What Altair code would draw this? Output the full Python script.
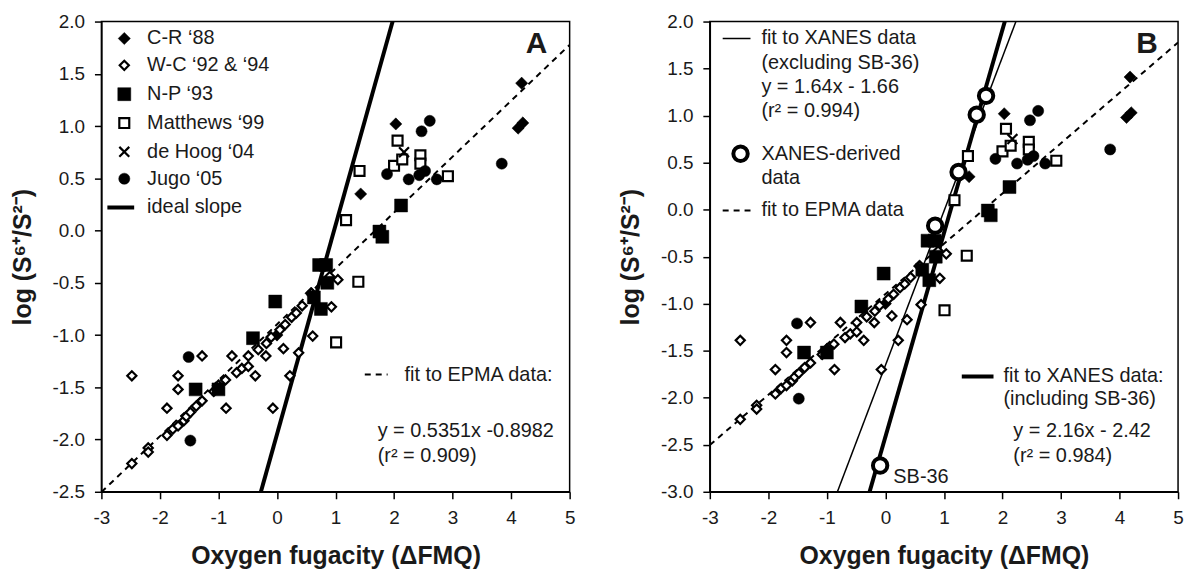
import altair as alt
import pandas as pd

FONT = "Liberation Sans"

# ---------------- data ----------------
cr_x = [4.18, 4.12, 4.20, 2.03, 1.43, 0.58, 0.00]
cr_y = [1.41, 0.98, 1.03, 1.02, 0.35, -0.60, -1.00]

wc_x = [-2.48, -2.48, -2.20, -2.20, -1.88, -1.88, -1.78, -1.69, -1.69, -1.69, -1.59, -1.55,
        -1.48, -1.38, -1.28, -1.28, -1.08, -1.00, -0.88, -0.87, -0.77, -0.69, -0.60, -0.49,
        -0.49, -0.37, -0.32, -0.19, -0.18, -0.10, -0.07, 0.05, 0.11, 0.14, 0.22, 0.25,
        0.33, 0.37, 0.43, 0.59, 0.61, 0.90, 0.93, 1.04]
wc_y = [-1.39, -2.23, -2.08, -2.12, -1.96, -1.70, -1.90, -1.39, -1.52, -1.87, -1.82, -1.78,
        -1.74, -1.68, -1.63, -1.20, -1.54, -1.48, -1.43, -1.70, -1.20, -1.36, -1.32, -1.30,
        -1.20, -1.39, -1.14, -1.20, -1.08, -1.02, -1.70, -0.95, -1.13, -0.90, -1.39, -0.83,
        -0.79, -1.17, -0.72, -0.60, -1.01, -0.44, -0.73, -0.47]

np_x = [-1.39, -1.00, -0.41, -0.03, 0.72, 0.84, 0.86, 0.63, 0.75, 1.75, 1.80, 2.12]
np_y = [-1.52, -1.52, -1.03, -0.68, -0.33, -0.33, -0.50, -0.64, -0.75, -0.01, -0.06, 0.24]

mt_x = [2.06, 2.00, 2.14, 2.45, 2.45, 2.92, 1.41, 1.18, 1.39, 1.01]
mt_y = [0.86, 0.62, 0.68, 0.72, 0.64, 0.52, 0.57, 0.10, -0.49, -1.07]

dh_x = [2.17]
dh_y = [0.75]

jg_x = [2.61, 2.47, 1.88, 2.25, 2.43, 2.53, 2.73, 3.84, -1.51, -1.48]
jg_y = [1.05, 0.95, 0.54, 0.49, 0.53, 0.57, 0.49, 0.64, -1.21, -2.01]

xanes_x = [1.72, 1.56, 1.25, 0.85, -0.09]
xanes_y = [1.21, 1.01, 0.40, -0.17, -2.72]

# fit / reference lines (end points)
epma_x = [-3.0, 5.0]
epma_y = [-2.503, 1.777]
ideal_x = [-0.275, 1.975]
ideal_y = [-2.5, 2.0]
xan_ex_x = [-0.82, 2.23]
xan_ex_y = [-3.0, 2.0]
xan_in_x = [-0.27, 2.04]
xan_in_y = [-3.0, 2.0]

series_names = ["C-R \u201888", "W-C \u201892 & \u201894", "N-P \u201893",
                "Matthews \u201899", "de Hoog \u201804", "Jugo \u201805"]
series_x = [cr_x, wc_x, np_x, mt_x, dh_x, jg_x]
series_y = [cr_y, wc_y, np_y, mt_y, dh_y, jg_y]

x_ticks = [-3, -2, -1, 0, 1, 2, 3, 4, 5]
yA_ticks = [-2.5, -2.0, -1.5, -1.0, -0.5, 0.0, 0.5, 1.0, 1.5, 2.0]
yB_ticks = [-3.0, -2.5, -2.0, -1.5, -1.0, -0.5, 0.0, 0.5, 1.0, 1.5, 2.0]

x_title = "Oxygen fugacity (\u0394FMQ)"
y_title = "log (S\u2076\u207A/S\u00B2\u207B)"

# ---------------- styles ----------------
XPATH = "M-1,-1L1,1M-1,1L1,-1"
STYLE = {
    series_names[0]: dict(shape="diamond", size=150, fill="black", sw=0.5),
    series_names[1]: dict(shape="diamond", size=85, fill="white", sw=2.2),
    series_names[2]: dict(shape="square", size=170, fill="black", sw=0.5),
    series_names[3]: dict(shape="square", size=100, fill="white", sw=2.2),
    series_names[4]: dict(shape=XPATH, size=100, fill=None, sw=2.2),
    series_names[5]: dict(shape="circle", size=125, fill="black", sw=0.5),
}
TXT = 20

W, H = 471, 473
XSCALE = alt.Scale(domain=[-3, 5], nice=False, zero=False)


def enc(df, yscale, yticks):
    return dict(
        x=alt.X("x:Q", scale=XSCALE,
                axis=alt.Axis(values=x_ticks, title=x_title, format="d",
                              labelExpr="replace(datum.label, '\u2212', '-')")),
        y=alt.Y("y:Q", scale=yscale,
                axis=alt.Axis(values=yticks, title=y_title, format=".1f",
                              labelExpr="replace(datum.label, '\u2212', '-')")),
    )


def point_layer(xs, ys, name, yscale, yticks):
    st = STYLE[name]
    kw = dict(shape=st["shape"], size=st["size"], filled=False, stroke="black",
              strokeWidth=st["sw"], opacity=1, clip=True)
    if st["fill"] is not None:
        kw["fill"] = st["fill"]
        kw["fillOpacity"] = 1
    df = pd.DataFrame({"x": xs, "y": ys})
    return alt.Chart(df).mark_point(**kw).encode(**enc(df, yscale, yticks))


def line_layer(xs, ys, yscale, yticks, width, dash=None):
    df = pd.DataFrame({"x": xs, "y": ys})
    kw = dict(color="black", strokeWidth=width, clip=True)
    if dash:
        kw["strokeDash"] = dash
    return alt.Chart(df).mark_line(**kw).encode(**enc(df, yscale, yticks))


def text_layer(xs, ys, texts, yscale, yticks, size=TXT, bold=False, align="left"):
    df = pd.DataFrame({"x": xs, "y": ys, "t": texts})
    return alt.Chart(df).mark_text(align=align, baseline="middle", font=FONT,
                                   fontSize=size, fontWeight="bold" if bold else "normal",
                                   color="#1a1a1a").encode(text="t:N", **enc(df, yscale, yticks))


def xanes_layer(xs, ys, yscale, yticks):
    df = pd.DataFrame({"x": xs, "y": ys})
    return alt.Chart(df).mark_point(shape="circle", size=210, filled=False, fill="white",
                                    fillOpacity=1, stroke="black", strokeWidth=4,
                                    opacity=1, clip=True).encode(**enc(df, yscale, yticks))


# ---------------- panel A ----------------
yA = alt.Scale(domain=[-2.5, 2.0], nice=False, zero=False)
layersA = [
    line_layer(epma_x, epma_y, yA, yA_ticks, 2, [6, 5]),
    line_layer(ideal_x, ideal_y, yA, yA_ticks, 4),
]
for name, xs, ys in zip(series_names, series_x, series_y):
    layersA.append(point_layer(xs, ys, name, yA, yA_ticks))

# legend A (data-coordinate placement)
legA_rows = [1.838, 1.581, 1.305, 1.029, 0.753, 0.496]
for name, ly in zip(series_names, legA_rows):
    layersA.append(point_layer([-2.609], [ly], name, yA, yA_ticks))
layersA.append(text_layer([-2.219] * 7, legA_rows + [0.221], series_names + ["ideal slope"], yA, yA_ticks))
layersA.append(line_layer([-2.898, -2.44], [0.221, 0.221], yA, yA_ticks, 4))
layersA.append(line_layer([1.50, 1.89], [-1.378, -1.378], yA, yA_ticks, 2, [6, 5]))
layersA.append(text_layer([2.178], [-1.378], ["fit to EPMA data:"], yA, yA_ticks))
layersA.append(text_layer([1.72, 1.72], [-1.92, -2.158],
                          ["y = 0.5351x -0.8982", "(r\u00B2 = 0.909)"], yA, yA_ticks))
layersA.append(text_layer([4.436], [1.781], ["A"], yA, yA_ticks, size=30, bold=True, align="center"))

panelA = alt.layer(*layersA).properties(width=W, height=H)

# ---------------- panel B ----------------
yB = alt.Scale(domain=[-3.0, 2.0], nice=False, zero=False)
layersB = [
    line_layer(epma_x, epma_y, yB, yB_ticks, 2, [6, 5]),
    line_layer(xan_ex_x, xan_ex_y, yB, yB_ticks, 1.5),
    line_layer(xan_in_x, xan_in_y, yB, yB_ticks, 4),
]
for name, xs, ys in zip(series_names, series_x, series_y):
    layersB.append(point_layer(xs, ys, name, yB, yB_ticks))
layersB.append(xanes_layer(xanes_x, xanes_y, yB, yB_ticks))

# legend / annotations B
layersB.append(line_layer([-2.78, -2.305], [1.82, 1.82], yB, yB_ticks, 1.5))
layersB.append(text_layer([-2.119] * 4, [1.820, 1.556, 1.302, 1.049],
                          ["fit to XANES data", "(excluding SB-36)", "y = 1.64x - 1.66",
                           "(r\u00B2 = 0.994)"], yB, yB_ticks))
layersB.append(xanes_layer([-2.475], [0.594], yB, yB_ticks))
layersB.append(text_layer([-2.119, -2.119], [0.594, 0.340], ["XANES-derived", "data"], yB, yB_ticks))
layersB.append(line_layer([-2.78, -2.305], [-0.008, -0.008], yB, yB_ticks, 2, [6, 5]))
layersB.append(text_layer([-2.119], [-0.008], ["fit to EPMA data"], yB, yB_ticks))
layersB.append(line_layer([1.305, 1.847], [-1.774, -1.774], yB, yB_ticks, 4))
layersB.append(text_layer([2.017, 2.017], [-1.774, -2.017],
                          ["fit to XANES data:", "(including SB-36)"], yB, yB_ticks))
layersB.append(text_layer([2.186, 2.186], [-2.355, -2.619],
                          ["y = 2.16x - 2.42", "(r\u00B2 = 0.984)"], yB, yB_ticks))
layersB.append(text_layer([0.136], [-2.841], ["SB-36"], yB, yB_ticks))
layersB.append(text_layer([4.47], [1.757], ["B"], yB, yB_ticks, size=30, bold=True, align="center"))

panelB = alt.layer(*layersB).properties(width=W, height=H)

chart = (
    alt.hconcat(panelA, panelB, spacing=41)
    .properties(padding={"left": 9, "top": 10, "right": 2, "bottom": 0}, background="white")
    .configure_view(stroke="black", strokeWidth=1.5)
    .configure_axis(
        grid=False, domainColor="black", domainWidth=1.5, tickColor="black", tickWidth=1.5,
        tickSize=7, labelFont=FONT, labelFontSize=19, labelColor="#1a1a1a",
        labelFlush=False, labelOverlap=False, titleFont=FONT, titleFontSize=25,
        titleFontWeight="bold", titleColor="#1a1a1a",
    )
    .configure_axisX(labelPadding=10, titlePadding=16)
    .configure_axisY(labelPadding=10, titlePadding=17)
)

chart.save("out.html", embed_options={"renderer": "svg", "actions": False})
